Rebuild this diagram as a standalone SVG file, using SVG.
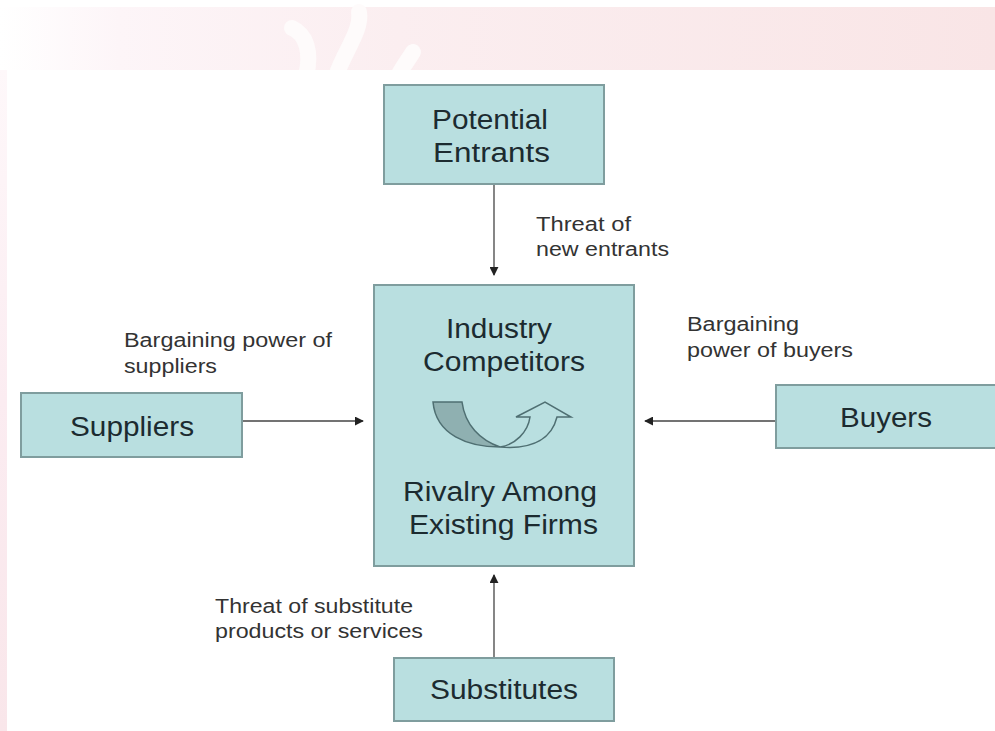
<svg xmlns="http://www.w3.org/2000/svg" width="995" height="731" viewBox="0 0 995 731">
<style>
.box{fill:#b9dfe0;stroke:#7f9d9e;stroke-width:2}
.t{font-family:"Liberation Sans",Arial,sans-serif;font-size:27px;fill:#1c2b30}
.l{font-family:"Liberation Sans",Arial,sans-serif;font-size:20px;fill:#333}
.c{stroke:#444;stroke-width:1.3;fill:none;marker-end:url(#a)}
</style>
<defs>
<linearGradient id="bg" x1="0" x2="1" y1="0" y2="0"><stop offset="0" stop-color="#fff"/><stop offset=".12" stop-color="#fdf5f8"/><stop offset=".4" stop-color="#fbeef0"/><stop offset="1" stop-color="#f9e5e6"/></linearGradient>
<linearGradient id="side" x1="0" x2="0" y1="0" y2="1"><stop offset="0" stop-color="#fef8fa"/><stop offset=".5" stop-color="#fbecf1"/><stop offset="1" stop-color="#f9e6ea"/></linearGradient>
<marker id="a" viewBox="0 0 10 10" refX="9" refY="5" markerWidth="9" markerHeight="9" markerUnits="userSpaceOnUse" orient="auto"><path d="M0 0L10 5L0 10Z" fill="#222"/></marker>
</defs>
<rect width="995" height="731" fill="#fff"/>
<rect x="0" y="7" width="995" height="64" fill="url(#bg)"/>
<rect x="0" y="70" width="7" height="661" fill="url(#side)"/>
<g fill="none" stroke="#fefbfb" stroke-width="16" stroke-linecap="round">
<path d="M292 28C306 34 312 52 306 76"/>
<path d="M359 12C362 30 345 50 336 76"/>
<path d="M413 52C408 60 402 68 398 76"/>
</g>
<rect x="7" y="70" width="988" height="661" fill="#fff"/>
<g id="connectors">
<path class="c" d="M494 185V275"/>
<path class="c" d="M243 421H363"/>
<path class="c" d="M775 421H645"/>
<path class="c" d="M494 657V575"/>
</g>
<g id="potential-entrants"><rect class="box" x="384" y="85" width="220" height="99"/><text class="t" x="432" y="129" textLength="116" lengthAdjust="spacingAndGlyphs">Potential</text><text class="t" x="433" y="162" textLength="117" lengthAdjust="spacingAndGlyphs">Entrants</text></g>
<g id="industry-competitors"><rect class="box" x="374" y="285" width="260" height="281"/><text class="t" x="446" y="338" textLength="106" lengthAdjust="spacingAndGlyphs">Industry</text><text class="t" x="423" y="371" textLength="162" lengthAdjust="spacingAndGlyphs">Competitors</text>
<path d="M433 402H462C465 425 480 440 500 447C468 447 436 435 433 402Z" fill="#8fb0b1" stroke="#4f6f72" stroke-width="1.5"/>
<path d="M500 447C515 445 528 432 530 417H516L545 402L571 417H557C552 437 535 450 500 447Z" fill="#b9dfe0" stroke="#4f6f72" stroke-width="1.5"/>
<text class="t" x="403" y="501" textLength="194" lengthAdjust="spacingAndGlyphs">Rivalry Among</text><text class="t" x="409" y="534" textLength="189" lengthAdjust="spacingAndGlyphs">Existing Firms</text></g>
<g id="suppliers"><rect class="box" x="21" y="393" width="221" height="64"/><text class="t" x="70" y="436" textLength="124" lengthAdjust="spacingAndGlyphs">Suppliers</text></g>
<g id="buyers"><rect class="box" x="776" y="385" width="220" height="63"/><text class="t" x="840" y="427" textLength="92" lengthAdjust="spacingAndGlyphs">Buyers</text></g>
<g id="substitutes"><rect class="box" x="394" y="658" width="220" height="63"/><text class="t" x="430" y="699" textLength="148" lengthAdjust="spacingAndGlyphs">Substitutes</text></g>
<g id="labels">
<text class="l" x="536" y="231" textLength="95" lengthAdjust="spacingAndGlyphs">Threat of</text><text class="l" x="536" y="256" textLength="133" lengthAdjust="spacingAndGlyphs">new entrants</text>
<text class="l" x="124" y="347" textLength="208" lengthAdjust="spacingAndGlyphs">Bargaining power of</text><text class="l" x="124" y="373" textLength="93" lengthAdjust="spacingAndGlyphs">suppliers</text>
<text class="l" x="687" y="331" textLength="112" lengthAdjust="spacingAndGlyphs">Bargaining</text><text class="l" x="687" y="357" textLength="166" lengthAdjust="spacingAndGlyphs">power of buyers</text>
<text class="l" x="215" y="613" textLength="198" lengthAdjust="spacingAndGlyphs">Threat of substitute</text><text class="l" x="215" y="638" textLength="208" lengthAdjust="spacingAndGlyphs">products or services</text>
</g>
</svg>
